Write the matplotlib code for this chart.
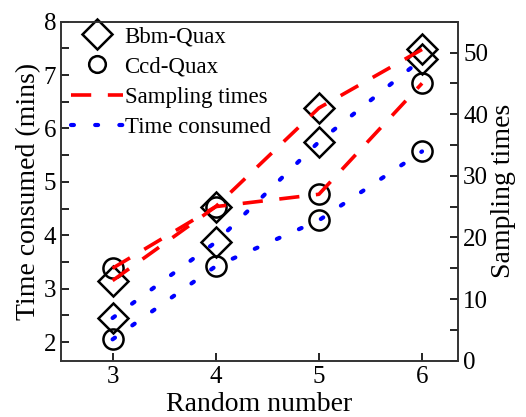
import matplotlib
matplotlib.use("Agg")
import matplotlib.pyplot as plt
from matplotlib.lines import Line2D
from matplotlib.ticker import MultipleLocator

plt.rcParams['font.family'] = ['Liberation Serif', 'DejaVu Serif']

# data
random_number = [3, 4, 5, 6]
bbm_time = [2.45, 3.87, 5.75, 7.30]
ccd_time = [2.05, 3.42, 4.28, 5.57]
bbm_sampling = [13, 25, 41, 50.5]
ccd_sampling = [15, 25, 27, 45]

fig = plt.figure(figsize=(5.26, 4.17), dpi=100)
ax = fig.add_axes([0.116, 0.135, 0.755, 0.813])
ax2 = ax.twinx()

mk = dict(mfc='none', mec='black', mew=1.8, linestyle='none', zorder=3)
ax.plot(random_number, bbm_time, 'D', ms=15.5, **mk)
ax.plot(random_number, ccd_time, 'o', ms=14.5, **mk)
ax2.plot(random_number, bbm_sampling, 'D', ms=15.5, **mk)
ax2.plot(random_number, ccd_sampling, 'o', ms=14.5, **mk)

dot = dict(color='blue', lw=3, linestyle=(0, (0.7, 5.1)), dash_capstyle='round', zorder=4)
dash = dict(color='red', lw=2.6, linestyle=(0, (5.6, 4.6)), zorder=4)
ax.plot(random_number, bbm_time, **dot)
ax.plot(random_number, ccd_time, **dot)
ax2.plot(random_number, bbm_sampling, **dash)
ax2.plot(random_number, ccd_sampling, **dash)

ax.set_xlim(2.5, 6.35)
ax.set_ylim(1.65, 8)
ax2.set_ylim(0, 55)
ax.set_xticks(random_number)
ax.yaxis.set_major_locator(MultipleLocator(1))
ax.yaxis.set_minor_locator(MultipleLocator(0.5))
ax2.yaxis.set_major_locator(MultipleLocator(10))
ax2.yaxis.set_minor_locator(MultipleLocator(5))

ax.tick_params(axis='both', which='both', direction='in', labelsize=18, width=1.2)
ax.tick_params(axis='both', which='major', length=6)
ax.tick_params(axis='y', which='minor', length=6)
ax.tick_params(axis='x', top=False)
ax2.tick_params(axis='y', which='both', direction='in', labelsize=18, width=1.2, length=6)

for a in (ax, ax2):
    for s in a.spines.values():
        s.set_linewidth(1.2)
        s.set_color('#333333')

ax.set_xlabel('Random number', fontsize=20, labelpad=3)
ax.set_ylabel('Time consumed (mins)', fontsize=20, labelpad=2)
ax2.set_ylabel('Sampling times', fontsize=20, labelpad=2)

handles = [
    Line2D([], [], marker='D', ms=15, mfc='none', mec='black', mew=1.8, linestyle='none'),
    Line2D([], [], marker='o', ms=12, mfc='none', mec='black', mew=1.8, linestyle='none'),
    Line2D([], [], **dash),
    Line2D([], [], **dot),
]
labels = ['Bbm-Quax', 'Ccd-Quax', 'Sampling times', 'Time consumed']
ax.legend(handles, labels, loc='upper left', frameon=False, fontsize=16.5,
          handlelength=2.3, handletextpad=0.05, labelspacing=0.4,
          borderaxespad=0, borderpad=0.2, bbox_to_anchor=(0.013, 1.0))

fig.savefig('out.png', dpi=100)
